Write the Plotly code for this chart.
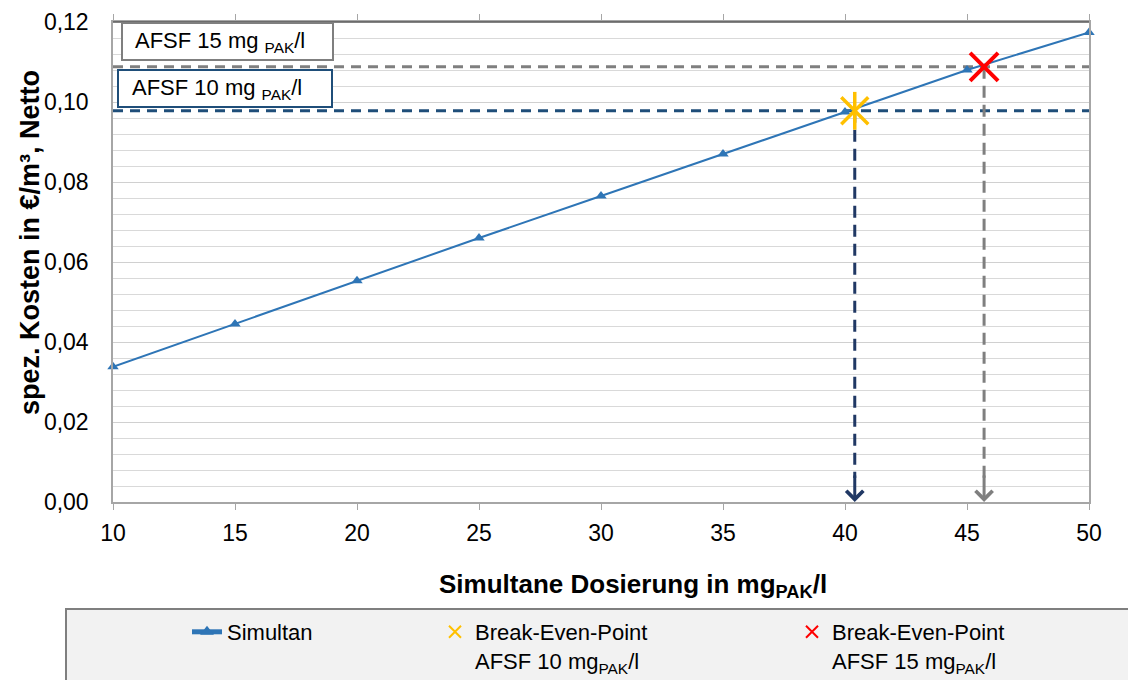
import plotly.graph_objects as go

# Simultan-Dosierung (mg PAK/l) vs. spez. Kosten (EUR/m3, netto)
dosierung = [10, 15, 20, 25, 30, 35, 40, 45, 50]
kosten = [0.0338, 0.0445, 0.0553, 0.0660, 0.0765, 0.0870, 0.0975, 0.1080, 0.1174]

# Break-Even-Punkte gegen AFSF
bep_10_x, bep_10_y = 40.4, 0.0978
bep_15_x, bep_15_y = 45.7, 0.1088

x_range = [10, 50]
y_range = [0, 0.12]
x_ticks = [10, 15, 20, 25, 30, 35, 40, 45, 50]
y_ticks = [0, 0.02, 0.04, 0.06, 0.08, 0.10, 0.12]

FONT = "Liberation Sans, Arial, sans-serif"
BLUE = "#2E75B6"
NAVY_H = "#1F4E79"
NAVY_V = "#203864"
GREY = "#7F7F7F"
YELLOW = "#FFC000"
RED = "#FF0000"

# Plotbereich auf dem Bildschirm (Seite hat 8px body-margin)
PL, PR, PT, PB = 113, 1089, 22, 502
OFF = 8


def px(x):
    return (x - PL) / (PR - PL)


def py(y):
    return (PB - y) / (PB - PT)


fig = go.Figure()

# horizontale Hilfslinien
fig.add_trace(go.Scatter(x=x_range, y=[bep_15_y, bep_15_y], mode="lines",
                         line=dict(color=GREY, width=3, dash="10px,7px"),
                         showlegend=False, hoverinfo="skip"))
fig.add_trace(go.Scatter(x=x_range, y=[bep_10_y, bep_10_y], mode="lines",
                         line=dict(color=NAVY_H, width=3, dash="10px,7px"),
                         showlegend=False, hoverinfo="skip"))
# vertikale Hilfslinien (Pfeilspitze kommt per Annotation)
fig.add_trace(go.Scatter(x=[bep_10_x, bep_10_x], y=[bep_10_y, 0.006], mode="lines",
                         line=dict(color=NAVY_V, width=3, dash="12px,7px"),
                         showlegend=False, hoverinfo="skip"))
fig.add_trace(go.Scatter(x=[bep_15_x, bep_15_x], y=[bep_15_y, 0.006], mode="lines",
                         line=dict(color=GREY, width=3, dash="12px,7px"),
                         showlegend=False, hoverinfo="skip"))

fig.add_trace(go.Scatter(
    x=dosierung, y=kosten, mode="lines+markers", name="Simultan",
    line=dict(color=BLUE, width=2),
    marker=dict(symbol="triangle-up", size=10, color=BLUE),
    cliponaxis=False, legend="legend"))

# Stern = X + senkrechter Strich
fig.add_trace(go.Scatter(
    x=[bep_10_x], y=[bep_10_y], mode="markers",
    name="Break-Even-Point<br>AFSF 10 mg<sub>PAK</sub>/l",
    marker=dict(symbol="x-thin-open", size=27, color=YELLOW,
                line=dict(color=YELLOW, width=3.5)),
    cliponaxis=False, legend="legend2"))
fig.add_trace(go.Scatter(
    x=[bep_10_x], y=[bep_10_y], mode="markers", showlegend=False,
    marker=dict(symbol="line-ns-open", size=27, color=YELLOW,
                line=dict(color=YELLOW, width=3.5)),
    cliponaxis=False))
fig.add_trace(go.Scatter(
    x=[bep_15_x], y=[bep_15_y], mode="markers",
    name="Break-Even-Point<br>AFSF 15 mg<sub>PAK</sub>/l",
    marker=dict(symbol="x-thin-open", size=28, color=RED,
                line=dict(color=RED, width=4)),
    cliponaxis=False, legend="legend3"))

annotations = [
    # Pfeilspitzen
    dict(x=bep_10_x, y=0, ax=bep_10_x, ay=0.007, xref="x", yref="y",
         axref="x", ayref="y", text="", showarrow=True, arrowhead=4,
         arrowsize=1.1, arrowwidth=3, arrowcolor=NAVY_V, standoff=0),
    dict(x=bep_15_x, y=0, ax=bep_15_x, ay=0.007, xref="x", yref="y",
         axref="x", ayref="y", text="", showarrow=True, arrowhead=4,
         arrowsize=1.1, arrowwidth=3, arrowcolor=GREY, standoff=0),
    # Texte in den Kaesten
    dict(x=px(133), y=py(41.5), xref="paper", yref="paper",
         text="AFSF 15 mg <sub>PAK</sub>/l", showarrow=False,
         xanchor="left", yanchor="middle",
         font=dict(family=FONT, size=22, color="black")),
    dict(x=px(130), y=py(88.5), xref="paper", yref="paper",
         text="AFSF 10 mg <sub>PAK</sub>/l", showarrow=False,
         xanchor="left", yanchor="middle",
         font=dict(family=FONT, size=22, color="black")),
    # Achsentitel
    dict(x=px(633), y=py(585), xref="paper", yref="paper",
         text="<b>Simultane Dosierung in mg<sub>PAK</sub>/l</b>", showarrow=False,
         xanchor="center", yanchor="middle",
         font=dict(family=FONT, size=26, color="black")),
    dict(x=px(30), y=py(243), xref="paper", yref="paper",
         text="<b>spez. Kosten in €/m³, Netto</b>", showarrow=False, textangle=-90,
         xanchor="center", yanchor="middle",
         font=dict(family=FONT, size=27, color="black")),
]

shapes = [
    # Legendenrahmen
    dict(type="rect", xref="paper", yref="paper",
         x0=px(66), x1=px(1150), y0=py(609), y1=py(695),
         line=dict(color=GREY, width=2), fillcolor="#F2F2F2", layer="below"),
    # obere Achse etwas dunkler
    dict(type="line", xref="paper", yref="paper", x0=0, x1=1, y0=1, y1=1,
         line=dict(color="#595959", width=1.5)),
    # Kaesten
    dict(type="rect", xref="paper", yref="paper",
         x0=px(122), x1=px(333), y0=py(23), y1=py(60),
         line=dict(color=GREY, width=2), fillcolor="white", layer="above"),
    dict(type="rect", xref="paper", yref="paper",
         x0=px(118), x1=px(332), y0=py(70), y1=py(107),
         line=dict(color=NAVY_H, width=2), fillcolor="white", layer="above"),
]

legend_style = dict(xref="container", yref="container", xanchor="left", yanchor="top",
                    bgcolor="rgba(0,0,0,0)", valign="top", itemsizing="constant",
                    font=dict(family=FONT, size=22, color="black"))


def lx(x):
    return (x - OFF) / 1136


def ly(y):
    return 1 - (y - OFF) / 680


fig.update_layout(
    width=1136, height=680,
    margin=dict(l=PL - OFF, r=1136 - (PR - OFF), t=PT - OFF, b=680 - (PB - OFF),
                autoexpand=False),
    paper_bgcolor="white", plot_bgcolor="white",
    separators=", ",
    font=dict(family=FONT, size=23, color="black"),
    xaxis=dict(range=x_range, tickvals=x_ticks, showgrid=False, zeroline=False,
               showline=True, linecolor="#A6A6A6", linewidth=1.5, mirror="ticks",
               ticks="outside", ticklen=6, tickcolor="#A6A6A6",
               ticklabelstandoff=4, tickfont=dict(size=23)),
    yaxis=dict(range=y_range, tickvals=y_ticks, tickformat=".2f",
               showgrid=True, gridcolor="#D0D0D0", zeroline=False,
               showline=True, linecolor="#A6A6A6", linewidth=1.5, mirror=True,
               ticks="outside", ticklen=18, tickcolor="rgba(0,0,0,0)",
               tickfont=dict(size=23),
               minor=dict(dtick=0.004, showgrid=True, gridcolor="#D9D9D9")),
    annotations=annotations,
    shapes=shapes,
    legend=dict(x=lx(187), y=ly(611), **legend_style),
    legend2=dict(x=lx(435), y=ly(611), **legend_style),
    legend3=dict(x=lx(792), y=ly(611), **legend_style),
)

fig.write_html("out.html")
